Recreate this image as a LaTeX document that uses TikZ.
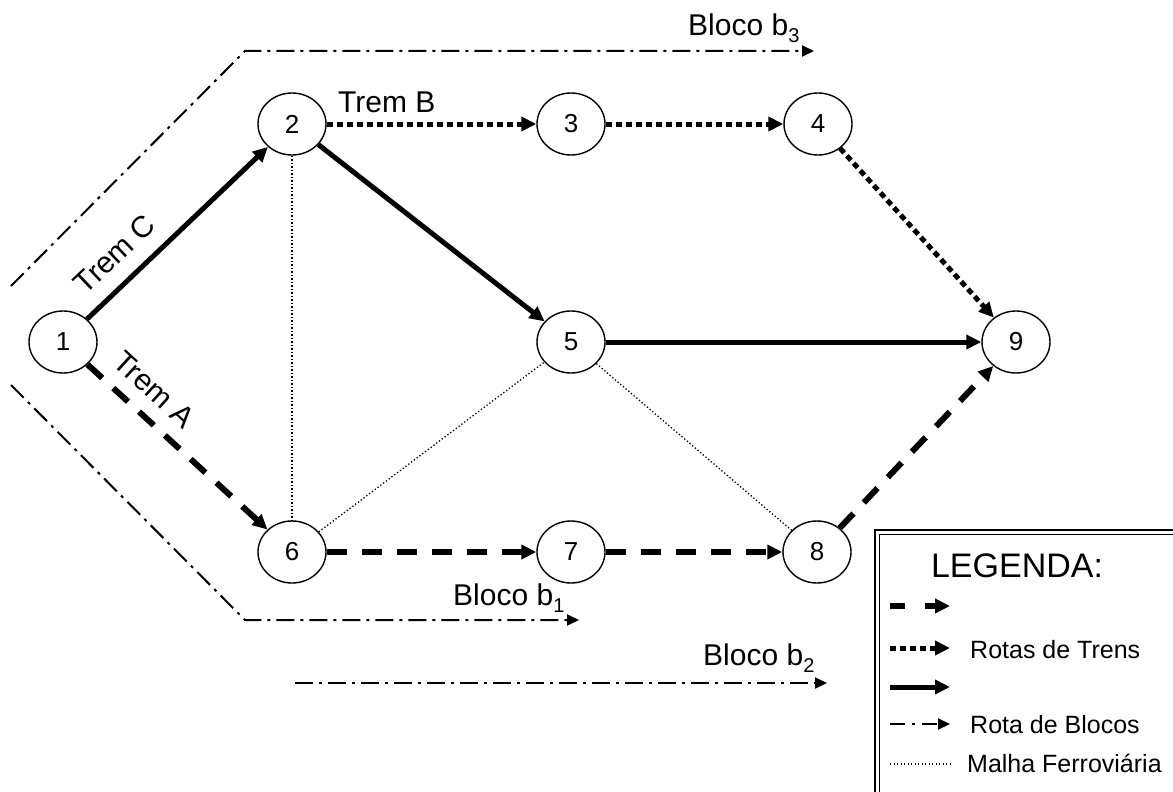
\documentclass[tikz,border=0pt]{standalone}
\usepackage{fontspec}
\setmainfont{Liberation Sans}
\usetikzlibrary{arrows.meta,shapes.geometric}

\begin{document}
\begin{tikzpicture}[x=1pt,y=-1pt,
  station/.style={ellipse, draw, line width=1.4pt, minimum width=68pt,
    minimum height=62pt, inner sep=0pt, font=\fontsize{26pt}{26pt}\selectfont},
  bigtip/.style={-{Triangle[length=15pt,width=14pt]}},
  smalltip/.style={-{Triangle[length=12pt,width=11pt]}},
  trainsolid/.style={line width=5pt, bigtip},
  traindash/.style={line width=6pt, dash pattern=on 20pt off 15pt, bigtip},
  traindot/.style={line width=5pt, dash pattern=on 6pt off 4pt, bigtip},
  blockroute/.style={line width=2pt, dash pattern=on 18pt off 6pt on 3pt off 6pt, smalltip},
  railnet/.style={line width=1.3pt, dash pattern=on 1.3pt off 2.2pt},
  lbl/.style={font=\fontsize{30pt}{30pt}\selectfont, inner sep=0pt},
  legtext/.style={font=\fontsize{25pt}{25pt}\selectfont, inner sep=0pt, anchor=base west},
]
\useasboundingbox (0,0) rectangle (1173,792);
\clip (0,0) rectangle (1173,792);

% stations
\node[station] (n1) at (63,342) {1};
\node[station] (n2) at (292,124) {2};
\node[station] (n3) at (571,124) {3};
\node[station] (n4) at (818,124) {4};
\node[station] (n5) at (571,342) {5};
\node[station] (n9) at (1016,342) {9};
\node[station] (n6) at (292,552) {6};
\node[station] (n7) at (571,552) {7};
\node[station] (n8) at (817,552) {8};

% rail network
\draw[railnet] (n2) -- (n6);
\draw[railnet] (n6) -- (n5);
\draw[railnet] (n5) -- (n8);

% train C
\draw[trainsolid] (n1) -- node[lbl, pos=0.26, sloped, above=15pt] {Trem C} (n2);
\draw[trainsolid] (n2) -- (n5);
\draw[trainsolid] (n5) -- (n9);

% train B
\draw[traindot] (n2) -- (n3);
\draw[traindot] (n3) -- (n4);
\draw[traindot] (n4) -- (n9);
\node[lbl, anchor=base west] (tB) at (338,112) {Trem B};

% train A
\draw[traindash] (n1) -- node[lbl, pos=0.27, sloped, above=13pt] {Trem A} (n6);
\draw[traindash] (n6) -- (n7);
\draw[traindash] (n7) -- (n8);
\draw[traindash] (n8) -- (n9);

% block routes
\coordinate (b3s) at (11,286);
\coordinate (b3c) at (245,51);
\coordinate (b3e) at (814,51);
\draw[blockroute] (b3s) -- (b3c) -- (b3e);
\node[lbl, anchor=base west] (tb3) at (688,36)
  {Bloco b\raisebox{-7pt}{\fontsize{20pt}{20pt}\selectfont 3}};

\coordinate (b1s) at (11,385);
\coordinate (b1c) at (245,620);
\coordinate (b1e) at (579,620);
\draw[blockroute] (b1s) -- (b1c) -- (b1e);
\node[lbl, anchor=base west] (tb1) at (453,605)
  {Bloco b\raisebox{-7pt}{\fontsize{20pt}{20pt}\selectfont 1}};

\coordinate (b2s) at (295,683);
\coordinate (b2e) at (827,683);
\draw[blockroute] (b2s) -- (b2e);
\node[lbl, anchor=base west] (tb2) at (703,665)
  {Bloco b\raisebox{-7pt}{\fontsize{20pt}{20pt}\selectfont 2}};

% legend
\draw[double, double distance=3pt, line width=1.5pt] (877,532) rectangle (1200,820);
\node[font=\fontsize{34pt}{34pt}\selectfont, inner sep=0pt, anchor=base] (lgtitle) at (1017,577) {LEGENDA:};

\coordinate (la1) at (890,606);  \coordinate (la2) at (950,606);
\draw[line width=6pt, dash pattern=on 15pt off 20pt, bigtip] (la1) -- (la2);

\coordinate (lb1) at (890,648);  \coordinate (lb2) at (950,648);
\draw[traindot] (lb1) -- (lb2);
\node[legtext] (ltb) at (970,658) {Rotas de Trens};

\coordinate (lc1) at (890,687);  \coordinate (lc2) at (950,687);
\draw[trainsolid] (lc1) -- (lc2);

\coordinate (ld1) at (890,724);  \coordinate (ld2) at (950,724);
\draw[line width=2pt, dash pattern=on 15pt off 7pt on 3pt off 7pt, smalltip] (ld1) -- (ld2);
\node[legtext] (ltd) at (970,733) {Rota de Blocos};

\coordinate (le1) at (890,764);  \coordinate (le2) at (950,764);
\draw[railnet] (le1) -- (le2);
\node[legtext] (lte) at (967,772) {Malha Ferroviária};
\end{tikzpicture}
\end{document}
